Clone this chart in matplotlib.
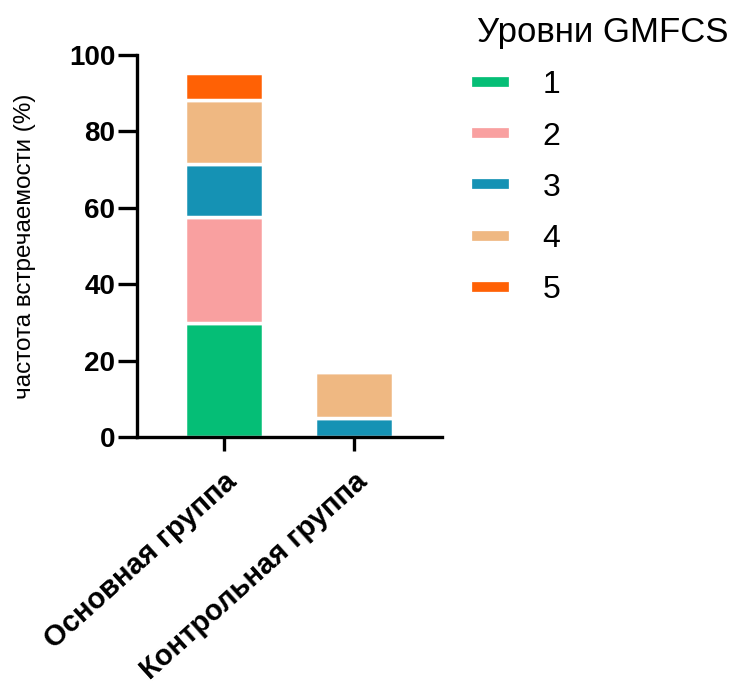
import numpy as np
import matplotlib.pyplot as plt
from matplotlib.lines import Line2D

plt.rcParams['font.family'] = ['Liberation Sans', 'DejaVu Sans']

groups = ['Основная группа', 'Контрольная группа']
levels = ['1', '2', '3', '4', '5']
lvl1 = [29.8, 0.0]
lvl2 = [27.8, 0.0]
lvl3 = [13.9, 5.1]
lvl4 = [16.6, 11.9]
lvl5 = [7.2, 0.0]
colors = ['#05be76', '#f9a0a0', '#1592b4', '#efb882', '#ff6105']

fig = plt.figure(figsize=(7.47, 6.87), dpi=100)
ax = fig.add_axes([0.1834, 0.3639, 0.4083, 0.5561])

x = np.arange(len(groups))
bottom = np.zeros(len(groups))
for vals, c in zip([lvl1, lvl2, lvl3, lvl4, lvl5], colors):
    ax.bar(x, vals, width=0.6, bottom=bottom, color=c, edgecolor='white', linewidth=2.5)
    bottom += np.array(vals)

ax.set_xlim(-0.67, 1.68)
ax.set_ylim(0, 100)
ax.set_yticks([0, 20, 40, 60, 80, 100])
ax.spines['top'].set_visible(False)
ax.spines['right'].set_visible(False)
for s in ['left', 'bottom']:
    ax.spines[s].set_linewidth(2.4)
ax.tick_params(axis='y', width=2.4, length=13.5, pad=2, labelsize=20)
ax.tick_params(axis='x', width=2.4, length=10, pad=12)
for t in ax.get_yticklabels():
    t.set_fontweight('bold')
ax.set_xticks(x)
ax.set_xticklabels(groups, rotation=42, ha='right', rotation_mode='anchor',
                   fontsize=21, fontweight='bold')
ax.set_ylabel('частота встречаемости (%)', fontsize=17.5)
ax.yaxis.set_label_coords(-0.33, 0.5)

handles = [Line2D([], [], color=c, lw=7) for c in colors]
leg = fig.legend(handles, levels, title='Уровни GMFCS', loc='upper left',
                 bbox_to_anchor=(0.6, 1.018), frameon=False, fontsize=23,
                 title_fontsize=25, handlelength=0.85, handletextpad=1.2,
                 labelspacing=0.66, alignment='left')

fig.savefig('out.png', dpi=100)
